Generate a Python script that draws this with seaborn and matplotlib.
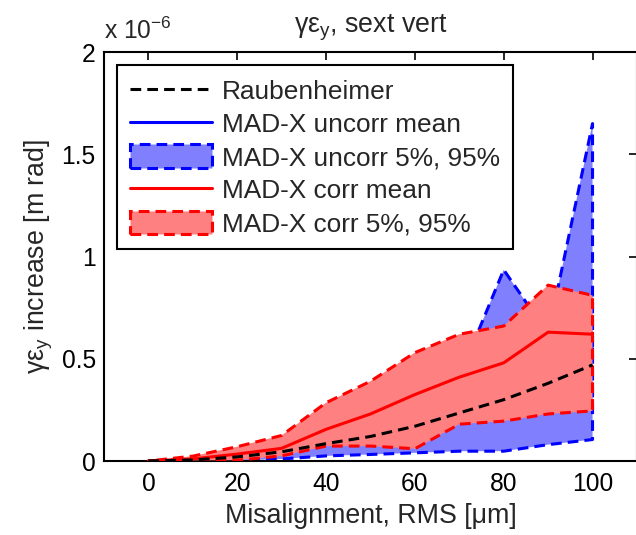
import matplotlib
matplotlib.use("Agg")
import numpy as np
import pandas as pd
import seaborn as sns
import matplotlib.pyplot as plt
from matplotlib.lines import Line2D
from matplotlib.patches import Patch

# ---- data (values in units of 1e-6 m rad) ----
misalignment = [0, 10, 20, 30, 40, 50, 60, 70, 80, 90, 100]
raubenheimer = [0, 0.005, 0.02, 0.045, 0.085, 0.12, 0.17, 0.235, 0.30, 0.38, 0.47]
uncorr_mean = [0, 0.005, 0.02, 0.04, 0.09, 0.14, 0.19, 0.25, 0.36, 0.33, 0.55]
uncorr_p5 = [0, 0.001, 0.002, 0.01, 0.025, 0.032, 0.04, 0.048, 0.048, 0.08, 0.105]
uncorr_p95 = [0, 0.01, 0.05, 0.09, 0.2, 0.28, 0.35, 0.41, 0.935, 0.62, 1.65]
corr_mean = [0, 0.01, 0.034, 0.062, 0.155, 0.23, 0.325, 0.41, 0.48, 0.63, 0.62]
corr_p5 = [0, 0.003, 0.004, 0.025, 0.073, 0.073, 0.06, 0.18, 0.195, 0.23, 0.245]
corr_p95 = [0, 0.024, 0.07, 0.125, 0.285, 0.39, 0.53, 0.62, 0.66, 0.86, 0.81]

xticks = [0, 20, 40, 60, 80, 100]
yticks = [0, 0.5, 1, 1.5, 2]
ytick_labels = ["0", "0.5", "1", "1.5", "2"]

df = pd.DataFrame({
    "x": misalignment, "raub": raubenheimer,
    "um": uncorr_mean, "u5": uncorr_p5, "u95": uncorr_p95,
    "cm": corr_mean, "c5": corr_p5, "c95": corr_p95,
})

sns.set_style("white")
plt.rcParams["font.family"] = ["Liberation Sans", "DejaVu Sans"]
plt.rcParams["mathtext.fontset"] = "custom"
plt.rcParams["mathtext.rm"] = "Liberation Sans"
plt.rcParams["mathtext.it"] = "Liberation Sans:italic"
plt.rcParams["mathtext.sf"] = "Liberation Sans"

FS_TICK = 17.7
FS_LAB = 19.3
FS_LEG = 18.9
LW = 2.2
DASH = (0, (3.5, 2))
BLUE, RED = "#0000ff", "#ff0000"
BLUE_F, RED_F = "#8080ff", "#ff8080"

fig = plt.figure(figsize=(6.36, 5.35), dpi=100)
ax = fig.add_axes([0.1635, 0.1383, 0.838, 0.7645])

ax.fill_between(df["x"], df["u5"], df["u95"], facecolor=BLUE_F, edgecolor=BLUE,
                linestyle=DASH, linewidth=LW, zorder=1)
sns.lineplot(data=df, x="x", y="um", ax=ax, color=BLUE, linewidth=LW, zorder=2)
ax.fill_between(df["x"], df["c5"], df["c95"], facecolor=RED_F, edgecolor=RED,
                linestyle=DASH, linewidth=LW, zorder=3)
sns.lineplot(data=df, x="x", y="cm", ax=ax, color=RED, linewidth=LW, zorder=4)
sns.lineplot(data=df, x="x", y="raub", ax=ax, color="black", linewidth=LW,
             linestyle=DASH, zorder=5)

ax.set_xlim(-10, 110)
ax.set_ylim(0, 2)
ax.set_xticks(xticks)
ax.set_xticklabels([str(t) for t in xticks])
ax.set_yticks(yticks)
ax.set_yticklabels(ytick_labels)
ax.tick_params(direction="in", length=6, width=1.2, top=True, right=True,
               labelsize=FS_TICK, pad=6, colors="black")
ax.tick_params(axis="x", pad=8)
for s in ax.spines.values():
    s.set_linewidth(1.5)
    s.set_color("black")

ax.set_xlabel("Misalignment, RMS [μm]", fontsize=FS_LAB, labelpad=5)
ax.set_ylabel("γε$_\\mathrm{y}$ increase [m rad]", fontsize=FS_LAB, labelpad=5)
ax.set_title("γε$_\\mathrm{y}$, sext vert", fontsize=FS_LAB, pad=14)
ax.text(0.0, 1.02, "x 10$^{-6}$", transform=ax.transAxes, fontsize=FS_TICK,
        ha="left", va="bottom")

handles = [
    Line2D([], [], color="black", linewidth=LW, linestyle=DASH),
    Line2D([], [], color=BLUE, linewidth=LW),
    Patch(facecolor=BLUE_F, edgecolor=BLUE, linestyle=DASH, linewidth=LW),
    Line2D([], [], color=RED, linewidth=LW),
    Patch(facecolor=RED_F, edgecolor=RED, linestyle=DASH, linewidth=LW),
]
labels = ["Raubenheimer", "MAD-X uncorr mean", "MAD-X uncorr 5%, 95%",
          "MAD-X corr mean", "MAD-X corr 5%, 95%"]
leg = ax.legend(handles, labels, loc="upper left", fontsize=FS_LEG, frameon=True,
                fancybox=False, framealpha=1, edgecolor="black",
                handlelength=3.1, handleheight=1.0, handletextpad=0.4,
                labelspacing=0.28, borderpad=0.5, borderaxespad=0.5)
leg.get_frame().set_linewidth(1.5)

fig.savefig("out.png", dpi=100)
